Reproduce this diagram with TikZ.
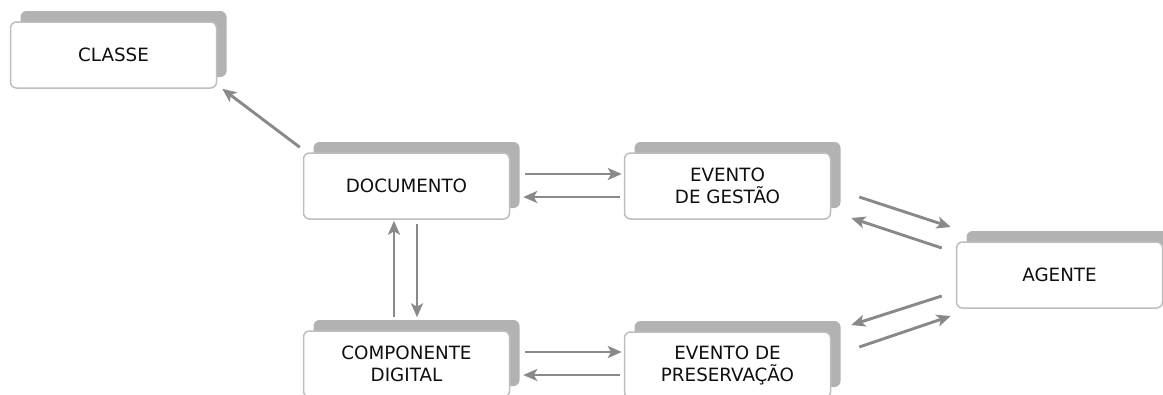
\documentclass[tikz,border=0pt]{standalone}
\usepackage{fontspec}
\setmainfont{DejaVu Sans}
\usepackage{color}
\definecolor{myshadow}{RGB}{178,178,178}
\definecolor{myborder}{RGB}{190,190,190}
\definecolor{myarrow}{RGB}{137,137,137}
\definecolor{mytext}{RGB}{15,15,15}
\usetikzlibrary{calc,shadows,arrows.meta,positioning}

\begin{document}
\begin{tikzpicture}[
  x=1pt,y=-1pt,
  mybox/.style={
    draw=myborder,
    line width=1.5pt,
    fill=white,
    rounded corners=6pt,
    minimum width=206pt,
    minimum height=66pt,
    align=center,
    text=mytext,
    font=\fontsize{18.3}{22}\selectfont,
    general shadow={fill=myshadow, shadow xshift=10pt, shadow yshift=11pt}
    },
  myline/.style={
    draw=myarrow,
    line width=2.9pt,
    -{Stealth[length=14pt,width=12pt,inset=3.5pt]}
  }
]
\useasboundingbox (0,0) rectangle (1163,394);
\clip (0,0) rectangle (1163,394);

\node[mybox] (classe)     at (113.5,55)  {CLASSE};
\node[mybox] (documento)  at (406.5,186) {DOCUMENTO};
\node[mybox] (gestao)     at (727.5,186) {EVENTO\\DE GESTÃO};
\node[mybox] (agente)     at (1059.5,275) {AGENTE};
\node[mybox] (componente) at (406.5,364) {COMPONENTE\\DIGITAL};
\node[mybox] (preserv)    at (727.5,365) {EVENTO DE\\PRESERVAÇÃO};

% documento - classe
\draw[myline] ($(documento.north west)+(-3,-5)$) -- ($(classe.south east)+(5,0)$);

% documento - eventos
\draw[myline] ($(documento.east)+(15,-12)$) -- ($(gestao.west)+(-2,-12)$);
\draw[myline] ($(gestao.west)+(-4,11)$) -- ($(documento.east)+(13,11)$);
\draw[myline] ($(componente.east)+(15,-12)$) -- ($(preserv.west)+(-2,-13)$);
\draw[myline] ($(preserv.west)+(-4,10)$) -- ($(componente.east)+(13,11)$);

% documento - componente
\draw[myline] ($(componente.north)+(-12.5,-13)$) -- ($(documento.south)+(-12.5,1)$);
\draw[myline] ($(documento.south)+(10.5,4)$) -- ($(componente.north)+(10.5,-13)$);

% agente
\draw[myline] ($(gestao.east)+(28,11)$) -- ($(agente.west)+(-5,-48)$);
\draw[myline] ($(agente.west)+(-14,-27)$) -- ($(gestao.east)+(20,32)$);
\draw[myline] ($(agente.west)+(-14,21)$) -- ($(preserv.east)+(20,-40)$);
\draw[myline] ($(preserv.east)+(28,-18)$) -- ($(agente.west)+(-5,41)$);

\end{tikzpicture}
\end{document}
